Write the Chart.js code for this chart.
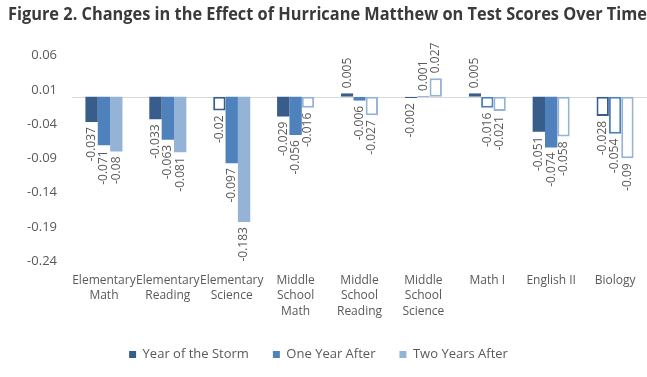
<!DOCTYPE html>
<html>
<head>
<meta charset="utf-8">
<script src="https://cdn.jsdelivr.net/npm/chart.js@4/dist/chart.umd.min.js"></script>
<style>
  html, body { margin: 0; padding: 0; background: #fff; }
  #wrap { width: 647px; height: 377px; position: relative; }
</style>
</head>
<body>
<div id="wrap"><canvas id="scores-chart"></canvas></div>
<script>
const categories = [
  ['Elementary', 'Math'], ['Elementary', 'Reading'], ['Elementary', 'Science'],
  ['Middle', 'School', 'Math'], ['Middle', 'School', 'Reading'], ['Middle', 'School', 'Science'],
  'Math I', 'English II', 'Biology'
]
const yearOfStorm = [-0.037, -0.033, -0.02, -0.029, 0.005, -0.002, 0.005, -0.051, -0.028]
const oneYearAfter = [-0.071, -0.063, -0.097, -0.056, -0.006, 0.001, -0.016, -0.074, -0.054]
const twoYearsAfter = [-0.08, -0.081, -0.183, -0.016, -0.027, 0.027, -0.021, -0.058, -0.09]
// 1 = drawn as hollow outline in the original
const yearOfStormHollow = [0, 0, 1, 0, 1, 1, 1, 0, 1]
const oneYearAfterHollow = [0, 0, 0, 0, 1, 1, 1, 0, 1]
const twoYearsAfterHollow = [0, 0, 0, 1, 1, 1, 1, 1, 1]
const yTicks = [-0.24, -0.19, -0.14, -0.09, -0.04, 0.01, 0.06]

const gray = '#595959'

function series(label, data, hollow, color) {
  return {
    label,
    data,
    color,
    backgroundColor: hollow.map(h => h ? '#ffffff' : color),
    borderColor: color,
    borderWidth: hollow.map(h => h ? 2 : 0),
    borderSkipped: false,
    categoryPercentage: 0.58,
    barPercentage: 1
  }
}

const zeroLine = {
  id: 'zeroLine',
  beforeDatasetsDraw(chart) {
    const { ctx, chartArea } = chart
    const y = Math.round(chart.scales.y.getPixelForValue(0)) + 0.5
    ctx.save()
    ctx.strokeStyle = '#d9d9d9'
    ctx.lineWidth = 1
    ctx.beginPath()
    ctx.moveTo(chartArea.left, y)
    ctx.lineTo(chartArea.right, y)
    ctx.stroke()
    ctx.restore()
  }
}

const barLabels = {
  id: 'barLabels',
  afterDatasetsDraw(chart) {
    const ctx = chart.ctx
    ctx.save()
    ctx.font = '12px "Open Sans"'
    ctx.fillStyle = gray
    ctx.textBaseline = 'middle'
    chart.data.datasets.forEach((ds, i) => {
      chart.getDatasetMeta(i).data.forEach((bar, j) => {
        const v = ds.data[j]
        ctx.save()
        ctx.translate(bar.x, v < 0 ? bar.y + 5 : bar.y - 5)
        ctx.rotate(-Math.PI / 2)
        ctx.textAlign = v < 0 ? 'right' : 'left'
        ctx.fillText(String(v), 0, 0)
        ctx.restore()
      })
    })
    ctx.restore()
  }
}

// the legend in the original sits a little left of the canvas centre
const legendShift = {
  id: 'legendShift',
  afterLayout(chart) {
    chart.legend.left -= 9
    chart.legend.right -= 9
  }
}

new Chart(document.getElementById('scores-chart'), {
  type: 'bar',
  data: {
    labels: categories,
    datasets: [
      series('Year of the Storm', yearOfStorm, yearOfStormHollow, '#385d8a'),
      series('One Year After', oneYearAfter, oneYearAfterHollow, '#4f81bd'),
      series('Two Years After', twoYearsAfter, twoYearsAfterHollow, '#95b3d7')
    ]
  },
  options: {
    responsive: true,
    maintainAspectRatio: false,
    animation: false,
    layout: { padding: { left: 8, right: 0, top: 2, bottom: 6 } },
    plugins: {
      title: {
        display: true,
        text: 'Figure 2. Changes in the Effect of Hurricane Matthew on Test Scores Over Time',
        align: 'start',
        color: '#3a3a3a',
        font: { family: '"Liberation Sans Narrow", "Open Sans"', size: 18, weight: 'bold' },
        padding: { top: 2, bottom: 30 }
      },
      legend: {
        position: 'bottom',
        labels: {
          color: gray,
          font: { family: '"Open Sans"', size: 13 },
          boxWidth: 7,
          boxHeight: 7,
          padding: 24,
          generateLabels: chart => chart.data.datasets.map((ds, i) => ({
            text: ds.label,
            fillStyle: ds.color,
            strokeStyle: ds.color,
            lineWidth: 0,
            fontColor: gray,
            datasetIndex: i
          }))
        }
      },
      tooltip: { enabled: false }
    },
    scales: {
      x: {
        grid: { display: false, drawTicks: false },
        border: { display: false },
        afterFit(scale) { scale.height -= 7 },
        ticks: {
          color: gray,
          font: { family: '"Open Sans"', size: 12, lineHeight: 1.33 },
          padding: 11,
          maxRotation: 0,
          minRotation: 0,
          autoSkip: false
        }
      },
      y: {
        min: -0.24,
        max: 0.06,
        grid: { display: false, drawTicks: false },
        border: { display: false },
        afterFit(scale) { scale.width = 64 },
        afterBuildTicks(scale) { scale.ticks = yTicks.map(value => ({ value })) },
        ticks: {
          color: gray,
          font: { family: '"Open Sans"', size: 13 },
          padding: 15,
          callback: v => String(v)
        }
      }
    }
  },
  plugins: [zeroLine, barLabels, legendShift]
})
</script>
</body>
</html>
